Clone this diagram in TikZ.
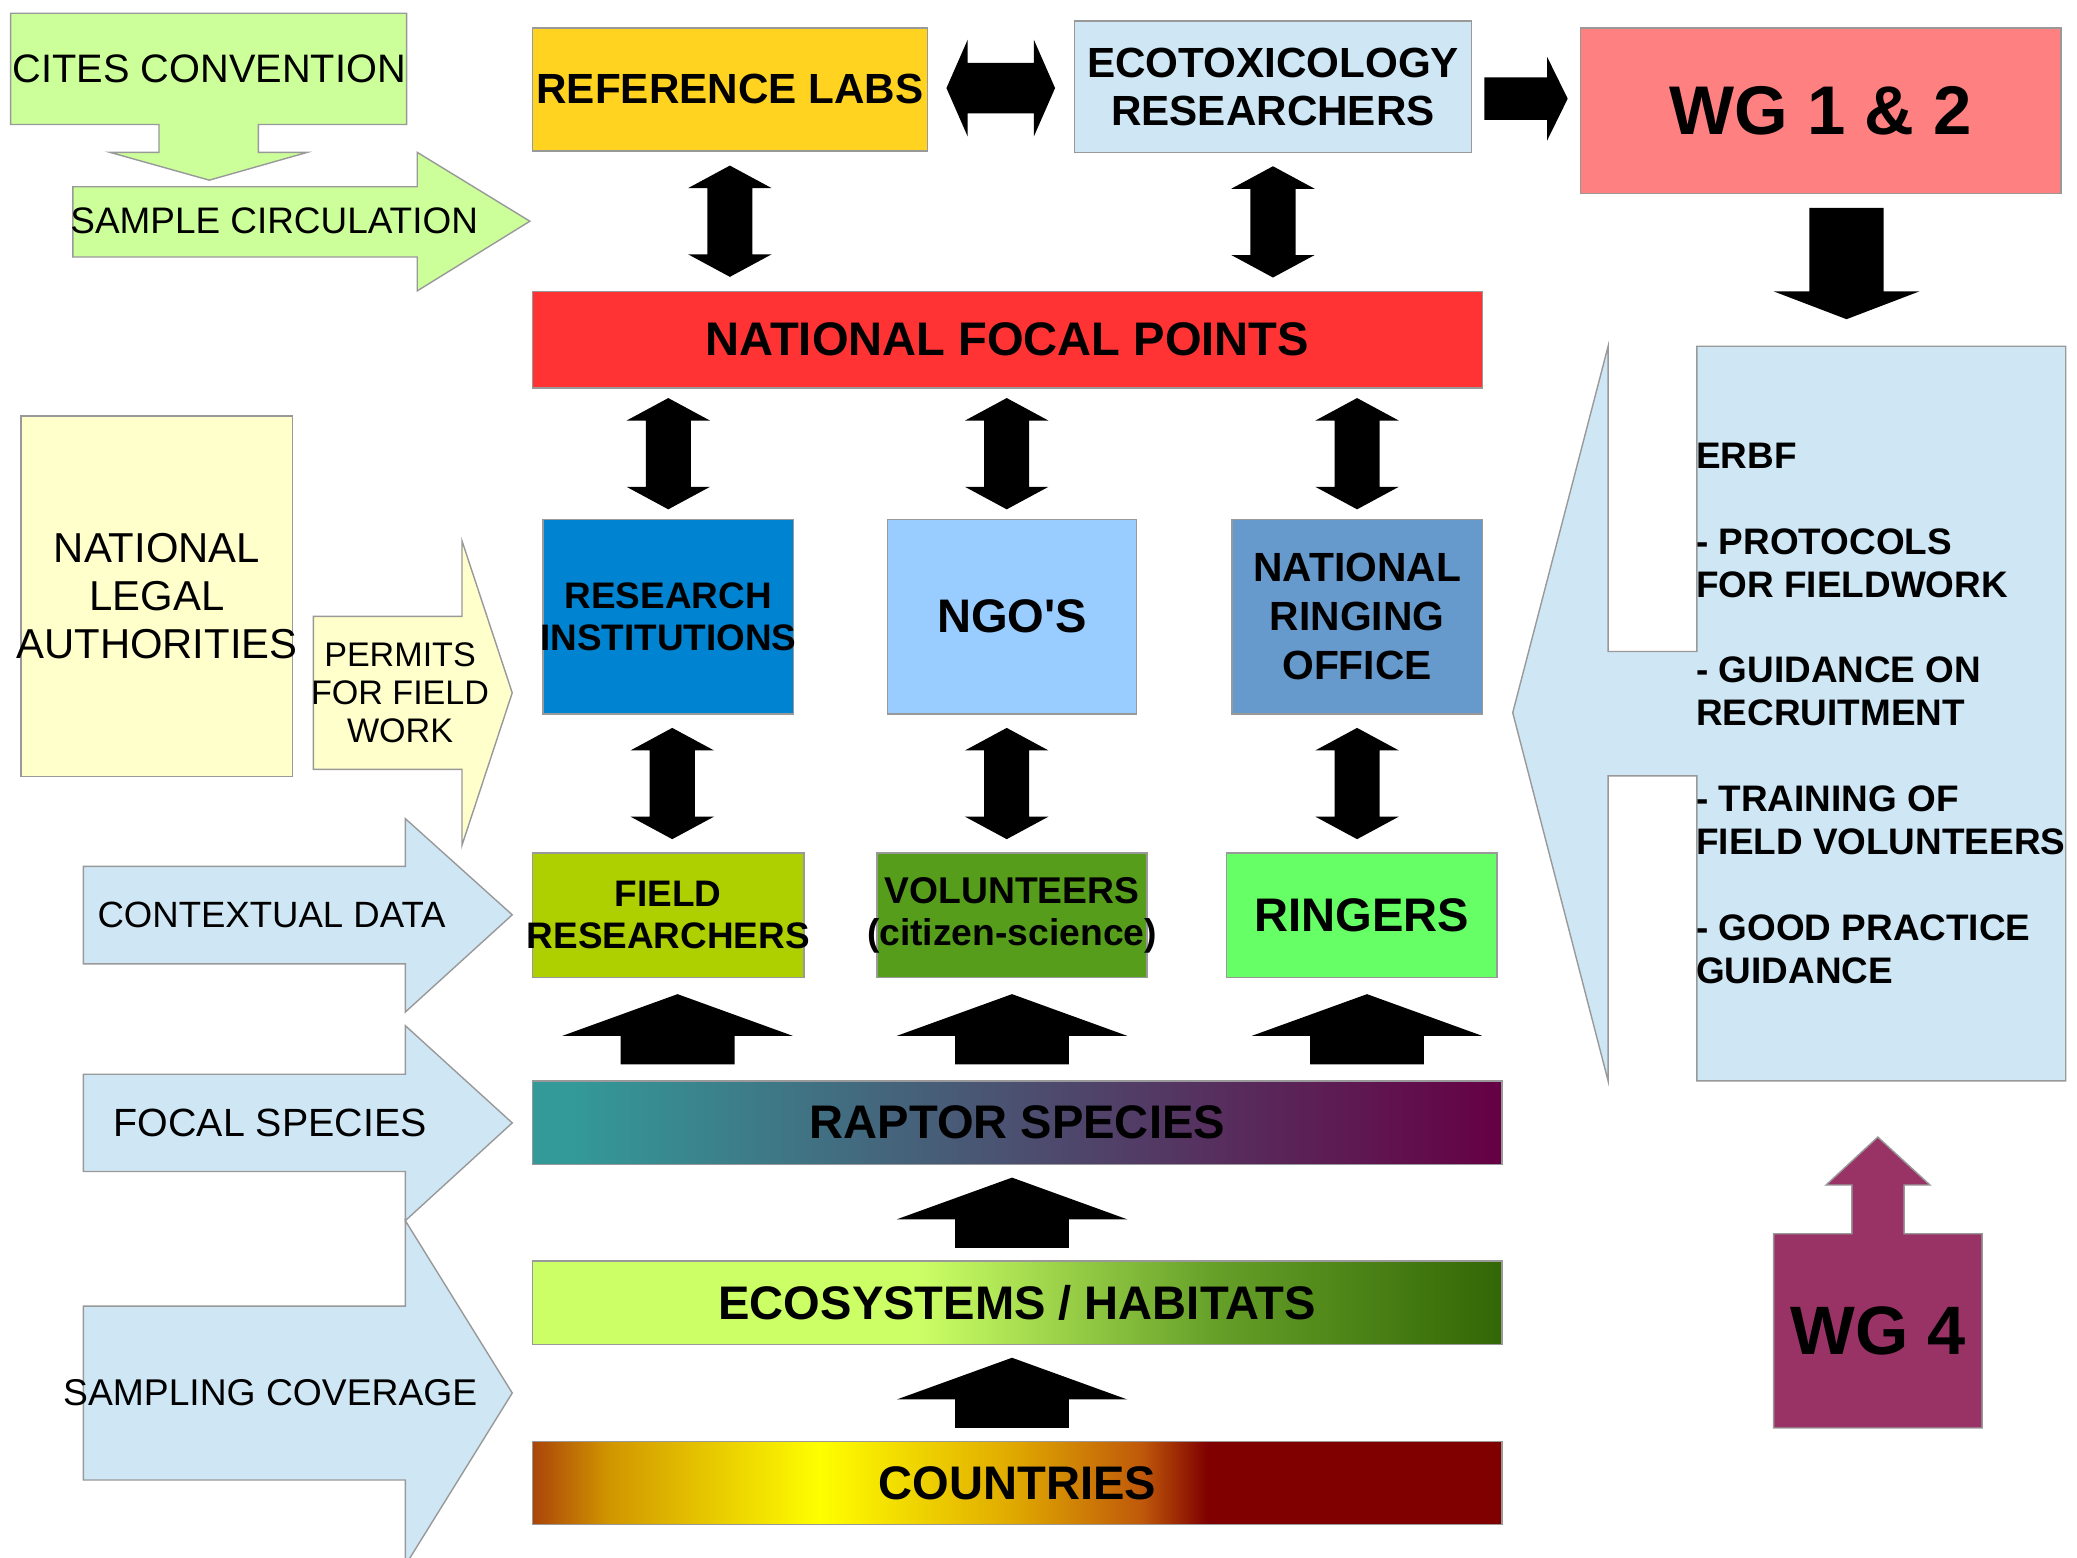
\documentclass[tikz,border=0pt]{standalone}
\usepackage{fontspec}
\setmainfont{Liberation Sans}
\usetikzlibrary{calc,fit}

\definecolor{calloutgreen}{HTML}{CCFF99}
\definecolor{labyellow}{HTML}{FFD320}
\definecolor{paleblue}{HTML}{CFE7F5}
\definecolor{wgpink}{HTML}{FF8080}
\definecolor{focalred}{HTML}{FF3333}
\definecolor{instblue}{HTML}{0084D1}
\definecolor{ngoblue}{HTML}{99CCFF}
\definecolor{ringblue}{HTML}{6699CC}
\definecolor{fieldgreen}{HTML}{AECF00}
\definecolor{volgreen}{HTML}{579D1C}
\definecolor{ringgreen}{HTML}{66FF66}
\definecolor{paleyellow}{HTML}{FFFFCC}
\definecolor{wgplum}{HTML}{993366}
\definecolor{edgegray}{HTML}{999999}

% shadings of the three bars
\pgfdeclarehorizontalshading{raptorshade}{100bp}{rgb(0bp)=(0.2,0.6,0.6); rgb(27bp)=(0.2,0.6,0.6); rgb(75bp)=(0.4,0,0.27); rgb(100bp)=(0.4,0,0.27)}
\pgfdeclarehorizontalshading{ecoshade}{100bp}{rgb(0bp)=(0.8,1,0.4); rgb(44.9bp)=(0.8,1,0.4); rgb(60bp)=(0.4,0.63,0.16); rgb(75bp)=(0.2,0.4,0.02); rgb(100bp)=(0.2,0.4,0.02)}
\pgfdeclarehorizontalshading{countryshade}{100bp}{rgb(0bp)=(0.67,0.27,0.04); rgb(25bp)=(0.67,0.27,0.04); rgb(29bp)=(0.82,0.59,0); rgb(39.8bp)=(1,1,0); rgb(49.6bp)=(0.88,0.67,0); rgb(56.4bp)=(0.75,0.35,0.04); rgb(59.8bp)=(0.5,0,0); rgb(100bp)=(0.5,0,0)}

\tikzset{
    pics/vdouble/.style={code={
        \fill (-17,-25) -- (-31.5,-25) -- (0,-42) -- (31.5,-25) -- (17,-25)
            -- (17,25) -- (31.5,25) -- (0,42) -- (-31.5,25) -- (-17,25) -- cycle;}},
    pics/hdouble/.style={code={
        \fill (-25,-19) -- (-25,-36.5) -- (-41,0) -- (-25,36.5) -- (-25,19)
            -- (25,19) -- (25,36.5) -- (41,0) -- (25,-36.5) -- (25,-19) -- cycle;}},
    pics/upblock/.style={code={
        \fill (0,-26.5) -- (87,5) -- (43,5) -- (43,26.5) -- (-43,26.5) -- (-43,5) -- (-87,5) -- cycle;}},
    pics/rightblock/.style={code={
        \fill (-31.5,-16) -- (16,-16) -- (16,-31.5) -- (31.5,0) -- (16,31.5) -- (16,16) -- (-31.5,16) -- cycle;}},
    pics/downblock/.style={code={
        \fill (-28,-42) -- (28,-42) -- (28,21) -- (55,21) -- (0,42) -- (-55,21) -- (-28,21) -- cycle;}},
}

\begin{document}
\begin{tikzpicture}[x=0.013246cm, y=-0.013246cm,
    every node/.style={inner sep=0pt},
    bx/.style={draw=edgegray, line width=0.4pt},
    callout/.style={draw=edgegray, line width=0.4pt},
    boldtxt/.style 2 args={font=\fontsize{#1}{#2}\selectfont\bfseries, align=center},
    plaintxt/.style 2 args={font=\fontsize{#1}{#2}\selectfont, align=center}]

    % Page
    \fill[white] (0,0) rectangle (1568,1176);
    \clip (0,0) rectangle (1568,1176);

    % Top row
    \node[bx, fill=labyellow, fit={(402,21) (700,114)}] (reflabs) {};
    \node[boldtxt={12}{13.6}] (reflabs-t) at (reflabs) {REFERENCE LABS};
    \node[bx, fill=paleblue, fit={(811,16) (1111,115)}] (ecotox) {};
    \node[boldtxt={12}{13.6}] (ecotox-t) at (ecotox) {ECOTOXICOLOGY\\RESEARCHERS};
    \node[bx, fill=wgpink, fit={(1193,21) (1556,146)}] (wg12) {};
    \node[boldtxt={19.6}{22}] (wg12-t) at (wg12) {WG 1 \& 2};

    \node[bx, fill=focalred, fit={(402,220) (1119,293)}] (nfp) {};
    \node[boldtxt={13.4}{15}] (nfp-t) at (nfp) {NATIONAL FOCAL POINTS};

    % Middle row
    \node[bx, fill=instblue, fit={(410,392) (599,539)}] (resinst) {};
    \node[boldtxt={10.5}{12}] (resinst-t) at (resinst) {RESEARCH\\INSTITUTIONS};
    \node[bx, fill=ngoblue, fit={(670,392) (858,539)}] (ngo) {};
    \node[boldtxt={13.4}{15}] (ngo-t) at (ngo) {NGO\textquotesingle S};
    \node[bx, fill=ringblue, fit={(930,392) (1119,539)}] (nro) {};
    \node[boldtxt={11.6}{13.9}] (nro-t) at (nro) {NATIONAL\\RINGING\\OFFICE};

    % Bottom row
    \node[bx, fill=fieldgreen, fit={(402,644) (607,738)}] (fieldres) {};
    \node[boldtxt={10.5}{12}] (fieldres-t) at (fieldres) {FIELD\\RESEARCHERS};
    \node[bx, fill=volgreen, fit={(662,644) (866,738)}] (volunteers) {};
    \node[boldtxt={10.6}{12}] (volunteers-t) at (volunteers) {VOLUNTEERS\\(citizen-science)};
    \node[bx, fill=ringgreen, fit={(926,644) (1130,738)}] (ringers) {};
    \node[boldtxt={13.4}{15}] (ringers-t) at (ringers) {RINGERS};

    % Bars
    \node[bx, shade, shading=raptorshade, fit={(402,816) (1134,879)}] (raptor) {};
    \node[boldtxt={13.4}{15}] (raptor-t) at (raptor) {RAPTOR SPECIES};
    \node[bx, shade, shading=ecoshade, fit={(402,952) (1134,1015)}] (ecosys) {};
    \node[boldtxt={13.4}{15}] (ecosys-t) at (ecosys) {ECOSYSTEMS / HABITATS};
    \node[bx, shade, shading=countryshade, fit={(402,1088) (1134,1151)}] (countries) {};
    \node[boldtxt={13.4}{15}] (countries-t) at (countries) {COUNTRIES};

    % Block arrows
    \pic at ($(reflabs.east)!0.5!(ecotox.west)$) {hdouble};
    \pic at ($(ecotox.east)!0.5!(wg12.west)$) {rightblock};
    \pic at ($(reflabs.south)!0.5!(reflabs.south |- nfp.north)$) {vdouble};
    \pic at ($(ecotox.south)!0.5!(ecotox.south |- nfp.north)$) {vdouble};
    \foreach \n/\dx in {resinst/0, ngo/-4, nro/0}
        \pic at ($(\n.north)!0.5!(\n.north |- nfp.south) + (\dx,0)$) {vdouble};
    \foreach \a/\b/\dx in {resinst/fieldres/3, ngo/volunteers/-4, nro/ringers/0}
        \pic at ($(\a.south)!0.5!(\a.south |- \b.north) + (\dx,0)$) {vdouble};
    \foreach \n/\dx in {fieldres/7, volunteers/0, ringers/4}
        \pic at ($(\n.south)!0.5!(\n.south |- raptor.north) + (\dx,0)$) {upblock};
    \pic at ($(volunteers.south |- raptor.south)!0.5!(volunteers.south |- ecosys.north)$) {upblock};
    \pic at ($(volunteers.south |- ecosys.south)!0.5!(volunteers.south |- countries.north)$) {upblock};

    % Left callouts
    \draw[callout, fill=calloutgreen] (8,10) -- (307,10) -- (307,94) -- (195,94) -- (195,115)
        -- (232,115) -- (158,136) -- (83,115) -- (120,115) -- (120,94) -- (8,94) -- cycle;
    \node[plaintxt={11.3}{13}] (cites) at (158,52) {CITES CONVENTION};
    \draw[callout, fill=calloutgreen] (55,141) -- (315,141) -- (315,115) -- (400,167)
        -- (315,219.6) -- (315,194) -- (55,194) -- cycle;
    \node[plaintxt={10.5}{12}] (samplecirc) at (207,167) {SAMPLE CIRCULATION};

    \node[bx, fill=paleyellow, fit={(16,314) (221,586)}] (nla) {};
    \node[plaintxt={11.9}{13.6}] (nla-t) at (nla) {NATIONAL\\LEGAL\\AUTHORITIES};
    \draw[callout, fill=paleyellow] (236.6,465.3) -- (348.8,465.3) -- (348.8,408.4) -- (386.7,523)
        -- (348.8,638) -- (348.8,580.8) -- (236.6,580.8) -- cycle;
    \node[plaintxt={9.7}{10.9}] (permits) at (302,523) {PERMITS\\FOR FIELD\\WORK};

    \draw[callout, fill=paleblue] (63,654) -- (306,654) -- (306,618) -- (386.7,690.6)
        -- (306,764) -- (306,727.6) -- (63,727.6) -- cycle;
    \node[plaintxt={10.4}{12}] (context) at (205,691) {CONTEXTUAL DATA};
    \draw[callout, fill=paleblue] (63,811) -- (306,811) -- (306,774.3) -- (386.7,847.7)
        -- (306,921.5) -- (306,884.4) -- (63,884.4) -- cycle;
    \node[plaintxt={11.2}{13}] (focal) at (204,848) {FOCAL SPECIES};
    \draw[callout, fill=paleblue] (63,986) -- (306,986) -- (306,921.5) -- (386.7,1051.6)
        -- (306,1181.7) -- (306,1117.3) -- (63,1117.3) -- cycle;
    \node[plaintxt={10.6}{12}] (sampling) at (204,1051) {SAMPLING COVERAGE};

    % Right side
    \coordinate (erbf) at (1420,261.4);
    \pic at ($(wg12.south)!0.5!(wg12.south |- erbf) + (19.5,-5)$) {downblock};
    \draw[callout, fill=paleblue] (1281,261.4) -- (1559.5,261.4) -- (1559.5,816) -- (1281,816)
        -- (1281,585.7) -- (1214,585.7) -- (1214,816) -- (1142,538) -- (1214,261.4)
        -- (1214,491.8) -- (1281,491.8) -- cycle;
    \node[anchor=west, font=\fontsize{10.5}{12.2}\selectfont\bfseries, align=left] (erbf-t) at (1280,538.5)
        {ERBF\\[12.2pt]- PROTOCOLS\\FOR FIELDWORK\\[12.2pt]- GUIDANCE ON\\RECRUITMENT\\[12.2pt]- TRAINING OF\\FIELD VOLUNTEERS\\[12.2pt]- GOOD PRACTICE\\GUIDANCE};

    \draw[callout, fill=wgplum] (1339,1078) -- (1339,931.4) -- (1398,931.4) -- (1398,894.6)
        -- (1378.5,894.6) -- (1417.6,858.4) -- (1457,894.6) -- (1437.5,894.6) -- (1437.5,931.4)
        -- (1496.3,931.4) -- (1496.3,1078) -- cycle;
    \node[boldtxt={19.5}{22}] (wg4) at (1418,1005) {WG 4};
\end{tikzpicture}
\end{document}
